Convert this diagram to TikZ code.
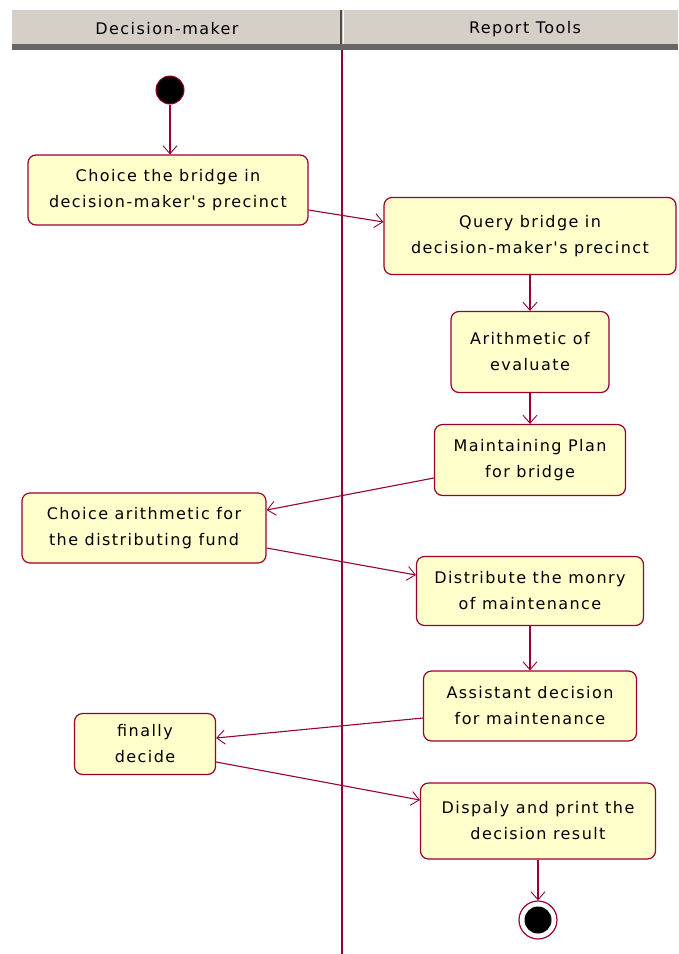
\documentclass[tikz,border=0pt]{standalone}
\usepackage{fontspec}
\setmainfont{DejaVu Sans}
\newfontfamily\umlfont[LetterSpace=9]{DejaVu Sans}
\usepackage{tikz}
\usetikzlibrary{arrows.meta,calc}

\definecolor{umlline}{HTML}{990033}
\definecolor{umlfill}{HTML}{FFFFCC}
\definecolor{lanegray}{HTML}{D4D0C8}

\tikzset{
  activity/.style={draw=umlline, fill=umlfill, line width=1.2pt, rounded corners=8pt,
    align=center, font=\umlfont\fontsize{16}{26}\selectfont, inner sep=0pt},
  lanehead/.style={font=\umlfont\fontsize{16}{18}\selectfont},
  flow/.style={draw=umlline, line width=1.1pt, -{Straight Barb[length=8pt,width=14pt,line width=0.9pt]}},
}

\begin{document}
\begin{tikzpicture}[x=1pt, y=-1pt]

\useasboundingbox (0,0) rectangle (678,954);

% swimlane header
\fill[lanegray] (12,10) rectangle (678,44);
\fill[gray!80!black] (12,44) rectangle (678,50);
\draw[gray!60!black, line width=1.5pt] (341,10) -- (341,44);
\draw[white, line width=1pt] (343.5,10) -- (343.5,44);
\node[lanehead] (lane1) at (167,29) {Decision-maker};
\node[lanehead] (lane2) at (525,29) {Report Tools};
\draw[umlline, line width=1.2pt] (342,50) -- (342,954);

% start and end
\node[circle, fill=black, draw=umlline, line width=1pt, minimum size=28pt, inner sep=0pt] (start) at (170,90) {};
\node[circle, draw=umlline, line width=1.2pt, fill=white, minimum size=38pt, inner sep=0pt] (stop) at (538,920) {};
\node[circle, fill=black, minimum size=27pt, inner sep=0pt] at (stop) {};

% activities
\node[activity, minimum width=280pt, minimum height=70pt] (choice) at (168,190)
  {Choice the bridge in\\decision-maker's precinct};
\node[activity, minimum width=292pt, minimum height=77pt] (query) at (530,236)
  {Query bridge in\\decision-maker's precinct};
\node[activity, minimum width=158pt, minimum height=81pt] (arith) at (530,352)
  {Arithmetic of\\evaluate};
\node[activity, minimum width=191pt, minimum height=71pt] (plan) at (530,460)
  {Maintaining Plan\\for bridge};
\node[activity, minimum width=244pt, minimum height=70pt] (fund) at (144,528)
  {Choice arithmetic for\\the distributing fund};
\node[activity, minimum width=227pt, minimum height=69pt] (money) at (530,591)
  {Distribute the monry\\of maintenance};
\node[activity, minimum width=213pt, minimum height=70pt] (assist) at (530,706)
  {Assistant decision\\for maintenance};
\node[activity, minimum width=141pt, minimum height=61pt] (decide) at (145,744)
  {finally\\decide};
\node[activity, minimum width=235pt, minimum height=76pt] (print) at (538,821)
  {Dispaly and print the\\decision result};

% flows
\draw[flow] (start) -- (start |- choice.north);
\draw[flow] ([yshift=-20pt]choice.east) -- ([yshift=14pt]query.west);
\draw[flow] (query) -- (arith);
\draw[flow] (arith) -- (plan);
\draw[flow] ([yshift=-18pt]plan.west) -- ([yshift=18pt]fund.east);
\draw[flow] ([yshift=-20pt]fund.east) -- ([yshift=16pt]money.west);
\draw[flow] (money) -- (assist);
\draw[flow] ([yshift=-12pt]assist.west) -- ([yshift=6pt]decide.east);
\draw[flow] ([yshift=-18pt]decide.east) -- ([yshift=21pt]print.west);
\draw[flow] (print) -- (stop);

\end{tikzpicture}
\end{document}
